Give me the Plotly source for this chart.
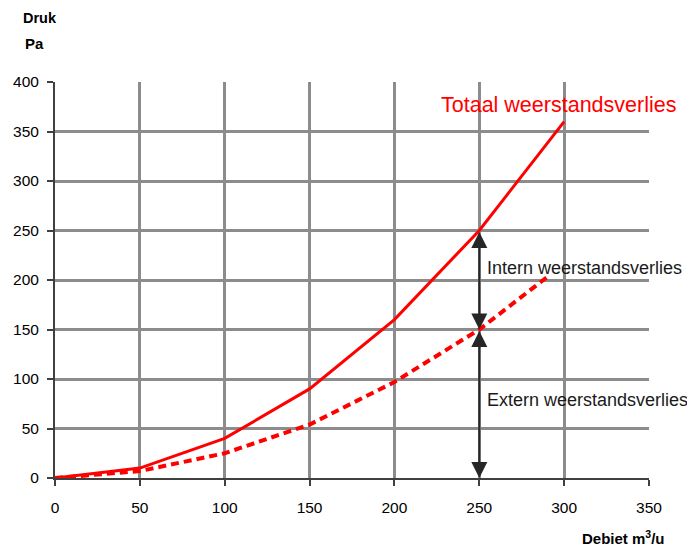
import plotly.graph_objects as go

debiet_totaal = [0, 50, 100, 150, 200, 250, 300]
druk_totaal = [0, 10, 40, 90, 160, 250, 360]
debiet_extern = [0, 50, 100, 150, 200, 250, 290]
druk_extern = [0, 7, 25, 54, 97, 150, 203]
x_ticks = [0, 50, 100, 150, 200, 250, 300, 350]
y_ticks = [0, 50, 100, 150, 200, 250, 300, 350, 400]
arrow_x = 250
arrow_levels = [250, 150, 0]

FONT = "Liberation Sans, Arial, sans-serif"
fig = go.Figure()
fig.add_trace(go.Scatter(x=debiet_extern, y=druk_extern, mode="lines",
                         line=dict(color="#ff0000", width=4, dash="8px,5px"),
                         showlegend=False, hoverinfo="skip"))
fig.add_trace(go.Scatter(x=debiet_totaal, y=druk_totaal, mode="lines",
                         line=dict(color="#ff0000", width=3),
                         showlegend=False, hoverinfo="skip"))

ann = []
for top, bot in zip(arrow_levels[:-1], arrow_levels[1:]):
    ann.append(dict(x=arrow_x, y=bot, ax=arrow_x, ay=top, xref="x", yref="y",
                    axref="x", ayref="y", showarrow=True, arrowhead=2,
                    arrowside="end+start", arrowsize=1.6, arrowwidth=2,
                    arrowcolor="#262626", text=""))
ann += [
    dict(x=0.847, y=0.942, xref="paper", yref="paper", xanchor="center", yanchor="middle",
         text="Totaal weerstandsverlies", showarrow=False,
         font=dict(family=FONT, size=21.5, color="#ff0000")),
    dict(x=253.5, y=212, xref="x", yref="y", xanchor="left", yanchor="middle",
         text="Intern weerstandsverlies", showarrow=False,
         font=dict(family=FONT, size=18, color="#1a1a1a")),
    dict(x=253.5, y=79, xref="x", yref="y", xanchor="left", yanchor="middle",
         text="Extern weerstandsverlies", showarrow=False,
         font=dict(family=FONT, size=18, color="#1a1a1a")),
    dict(x=-0.0572, y=1.1616, xref="paper", yref="paper", text="<b>Druk</b>", showarrow=False,
         xanchor="left", yanchor="middle", font=dict(family=FONT, size=14.5, color="#000")),
    dict(x=-0.054, y=1.096, xref="paper", yref="paper", text="<b>Pa</b>", showarrow=False,
         xanchor="left", yanchor="middle", font=dict(family=FONT, size=15, color="#000")),
    dict(x=1.030, y=-0.150, xref="paper", yref="paper", text="<b>Debiet m<sup>3</sup>/u</b>",
         showarrow=False, xanchor="right", yanchor="middle",
         font=dict(family=FONT, size=15, color="#000")),
]

# page body has an 8px margin, so the figure is sized to fit the 695x548 window
W, H = 687, 540
ml, mr, mt, mb = 47, 46, 74, 70

fig.update_layout(
    width=W, height=H, margin=dict(l=ml, r=mr, t=mt, b=mb),
    paper_bgcolor="white", plot_bgcolor="white",
    annotations=ann,
    xaxis=dict(range=[0, 350], tickvals=x_ticks, showgrid=True, gridcolor="#8c8c8c",
               gridwidth=3, zeroline=False, showline=True, linecolor="#404040",
               linewidth=2, ticks="outside", ticklen=6, tickwidth=2, tickcolor="#404040",
               ticklabelstandoff=8,
               tickfont=dict(family=FONT, size=15.5, color="#000"), automargin=False),
    yaxis=dict(range=[0, 400], tickvals=y_ticks, showgrid=True, gridcolor="#8c8c8c",
               gridwidth=3, zeroline=False, showline=True, linecolor="#404040",
               linewidth=2, ticks="outside", ticklen=6, tickwidth=2, tickcolor="#404040",
               ticklabelstandoff=5,
               tickfont=dict(family=FONT, size=15.5, color="#000"), automargin=False),
)
fig.write_html("out.html")
